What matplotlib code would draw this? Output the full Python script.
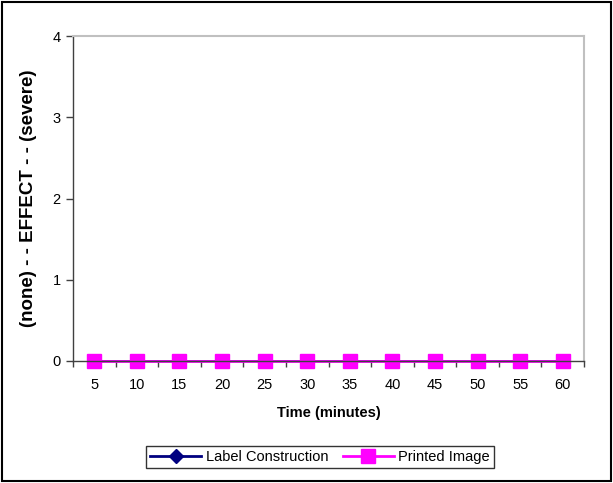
import matplotlib

matplotlib.use('Agg')
import matplotlib.pyplot as plt
import numpy as np
from matplotlib.patches import Rectangle

plt.rcParams['font.family'] = ['Liberation Sans', 'DejaVu Sans']

# Data
times = ['5', '10', '15', '20', '25', '30', '35', '40', '45', '50', '55', '60']
label_construction = [0, 0, 0, 0, 0, 0, 0, 0, 0, 0, 0, 0]
printed_image = [0, 0, 0, 0, 0, 0, 0, 0, 0, 0, 0, 0]
y_ticks = [0, 1, 2, 3, 4]

fig = plt.figure(figsize=(6.13, 4.83), dpi=100)
ax = fig.add_axes([73 / 613, 1 - 361 / 483, 511 / 613, 325 / 483])

x = np.arange(len(times))
ax.plot(x, label_construction, color='#000080', marker='D', markersize=7,
        linewidth=2, label='Label Construction')
ax.plot(x, printed_image, color='#ff00ff', marker='s', markersize=10,
        linewidth=2, label='Printed Image', clip_on=False)

ax.set_xlim(-0.5, len(times) - 0.5)
ax.set_ylim(0, 4)
ax.set_yticks(y_ticks)
ax.set_xticks(x)
ax.set_xticklabels(times)
ax.set_xticks(np.arange(-0.5, len(times), 1), minor=True)
ax.tick_params(axis='x', which='major', length=0, pad=12, labelsize=10.5)
ax.tick_params(axis='x', which='minor', length=4, width=1, color='#404040')
ax.tick_params(axis='y', length=5, width=1, color='#404040', pad=4, labelsize=10.5)

for side in ['top', 'right']:
    ax.spines[side].set_color('#c0c0c0')
    ax.spines[side].set_linewidth(1.5)
for side in ['left', 'bottom']:
    ax.spines[side].set_color('#404040')
    ax.spines[side].set_linewidth(1)

ax.set_xlabel('Time (minutes)', fontsize=10.5, fontweight='bold', labelpad=10)
ax.set_ylabel('(none) - - EFFECT - - (severe)', fontsize=13.5, fontweight='bold', labelpad=11)

leg = fig.legend(loc='center', bbox_to_anchor=(320 / 613, 1 - 457 / 483), ncol=2,
                 frameon=True, fancybox=False, edgecolor='black', fontsize=10.5,
                 handlelength=3.5, handletextpad=0.3, columnspacing=1.0,
                 borderpad=0.3)
leg.get_frame().set_linewidth(1)

fig.patches.append(Rectangle((2 / 613, 2 / 483), 609 / 613, 479 / 483,
                             transform=fig.transFigure, fill=False,
                             edgecolor='black', linewidth=1.5))

plt.savefig('out.png', dpi=100)
